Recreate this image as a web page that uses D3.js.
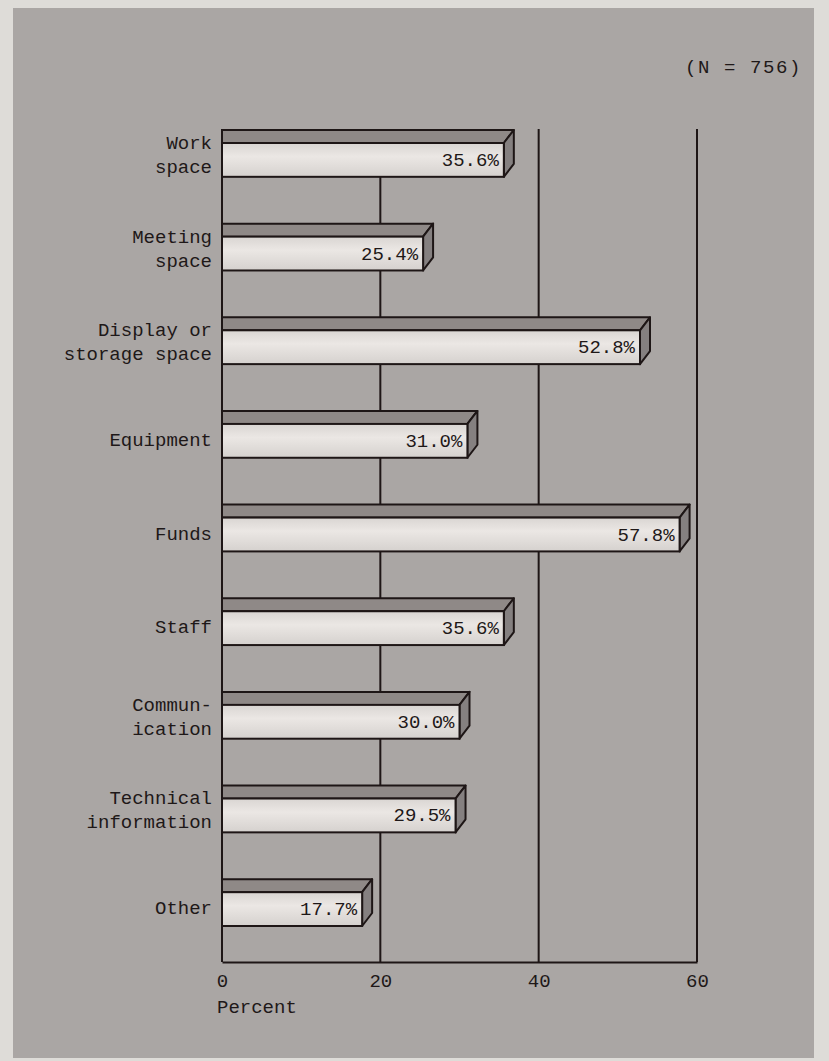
<!DOCTYPE html>
<html>
<head>
<meta charset="utf-8">
<script src="https://cdn.jsdelivr.net/npm/d3@7"></script>
<style>
  body { margin: 0; background: #dedcd8; }
  svg { display: block; }
  text { font-family: "Liberation Mono", "DejaVu Sans Mono", monospace; fill: #1e1818; }
</style>
</head>
<body>
<svg></svg>
<script>
let categories = [
    ["Work", "space"],
    ["Meeting", "space"],
    ["Display or", "storage space"],
    ["Equipment"],
    ["Funds"],
    ["Staff"],
    ["Commun-", "ication"],
    ["Technical", "information"],
    ["Other"]
]
let values = [35.6, 25.4, 52.8, 31.0, 57.8, 35.6, 30.0, 29.5, 17.7]
let ticks = [0, 20, 40, 60]

let width = 829
let height = 1061
let plotLeft = 222
let plotRight = 697
let plotTop = 129
let plotBottom = 962
let depthX = 10
let depthY = 13

let svg = d3.select("svg")
    .attr("width", width)
    .attr("height", height)

// gray panel
svg.append("rect")
    .attr("x", 13).attr("y", 8)
    .attr("width", 801).attr("height", 1050)
    .attr("fill", "#aaa6a4")

let defs = svg.append("defs")
let grad = defs.append("linearGradient")
    .attr("id", "front")
    .attr("x1", 0).attr("y1", 0).attr("x2", 0).attr("y2", 1)
grad.append("stop").attr("offset", "0%").attr("stop-color", "#d9d5d2")
grad.append("stop").attr("offset", "40%").attr("stop-color", "#ebe7e4")
grad.append("stop").attr("offset", "100%").attr("stop-color", "#d5d1ce")

let xScale = d3.scaleLinear()
    .domain([0, 60])
    .range([plotLeft, plotRight])

let yScale = d3.scaleBand()
    .domain(d3.range(values.length))
    .range([plotTop + 1, 926])
    .paddingInner(0.5)
    .paddingOuter(0)

// grid lines at each tick
svg.append("g")
    .selectAll("line")
    .data(ticks)
    .enter()
    .append("line")
    .attr("x1", (d) => xScale(d))
    .attr("x2", (d) => xScale(d))
    .attr("y1", plotTop)
    .attr("y2", plotBottom)
    .attr("stroke", "#1e1616")
    .attr("stroke-width", 2)

// bottom axis with tick labels
let xAxis = d3.axisBottom(xScale)
    .tickValues(ticks)
    .tickSize(0)
    .tickPadding(12)

let axisG = svg.append("g")
    .attr("transform", "translate(0, " + plotBottom + ")")
    .call(xAxis)
axisG.select(".domain")
    .attr("stroke", "#1e1616")
    .attr("stroke-width", 2)
axisG.selectAll("text")
    .style("font-family", "Liberation Mono, monospace")
    .style("font-size", "19px")
    .attr("fill", "#1e1818")

svg.append("text")
    .attr("x", plotLeft - 5)
    .attr("y", 1008)
    .attr("dominant-baseline", "central")
    .style("font-size", "19px")
    .text("Percent")

svg.append("text")
    .attr("x", 802)
    .attr("y", 68)
    .attr("text-anchor", "end")
    .attr("dominant-baseline", "central")
    .style("font-size", "19px")
    .attr("letter-spacing", "1.6")
    .text("(N = 756)")

// 3D bars
let bars = svg.append("g")
    .selectAll("g")
    .data(values)
    .enter()
    .append("g")

let frontTop = (i) => yScale(i) + depthY
let frontBottom = (i) => yScale(i) + yScale.bandwidth()

// top face
bars.append("path")
    .attr("d", (d, i) => {
        let xr = xScale(d)
        return "M" + plotLeft + "," + frontTop(i) +
            "L" + xr + "," + frontTop(i) +
            "L" + (xr + depthX) + "," + yScale(i) +
            "L" + plotLeft + "," + yScale(i) + "Z"
    })
    .attr("fill", "#8f8987")
    .attr("stroke", "#1e1616")
    .attr("stroke-width", 2)
    .attr("stroke-linejoin", "round")

// side face
bars.append("path")
    .attr("d", (d, i) => {
        let xr = xScale(d)
        return "M" + xr + "," + frontTop(i) +
            "L" + (xr + depthX) + "," + yScale(i) +
            "L" + (xr + depthX) + "," + (frontBottom(i) - depthY) +
            "L" + xr + "," + frontBottom(i) + "Z"
    })
    .attr("fill", "#858080")
    .attr("stroke", "#1e1616")
    .attr("stroke-width", 2)
    .attr("stroke-linejoin", "round")

// front face
bars.append("rect")
    .attr("x", plotLeft)
    .attr("y", (d, i) => frontTop(i))
    .attr("width", (d) => xScale(d) - plotLeft)
    .attr("height", (d, i) => frontBottom(i) - frontTop(i))
    .attr("fill", "url(#front)")
    .attr("stroke", "#1e1616")
    .attr("stroke-width", 2)

// value labels inside bars
bars.append("text")
    .attr("x", (d) => xScale(d) - 5)
    .attr("y", (d, i) => (frontTop(i) + frontBottom(i)) / 2 + 1)
    .attr("text-anchor", "end")
    .attr("dominant-baseline", "central")
    .style("font-size", "19px")
    .text((d) => d.toFixed(1) + "%")

// category labels
let labels = svg.append("g")
    .selectAll("text")
    .data(categories)
    .enter()
    .append("text")
    .attr("text-anchor", "end")
    .style("font-size", "19px")

labels.selectAll("tspan")
    .data((d, i) => d.map((line, j) => ({ line: line, j: j, n: d.length, i: i })))
    .enter()
    .append("tspan")
    .attr("x", 212)
    .attr("y", (t) => {
        let c = (frontTop(t.i) + frontBottom(t.i)) / 2
        if (t.n == 1) return c
        return c - 16 + t.j * 24
    })
    .attr("dominant-baseline", "central")
    .text((t) => t.line)
</script>
</body>
</html>
